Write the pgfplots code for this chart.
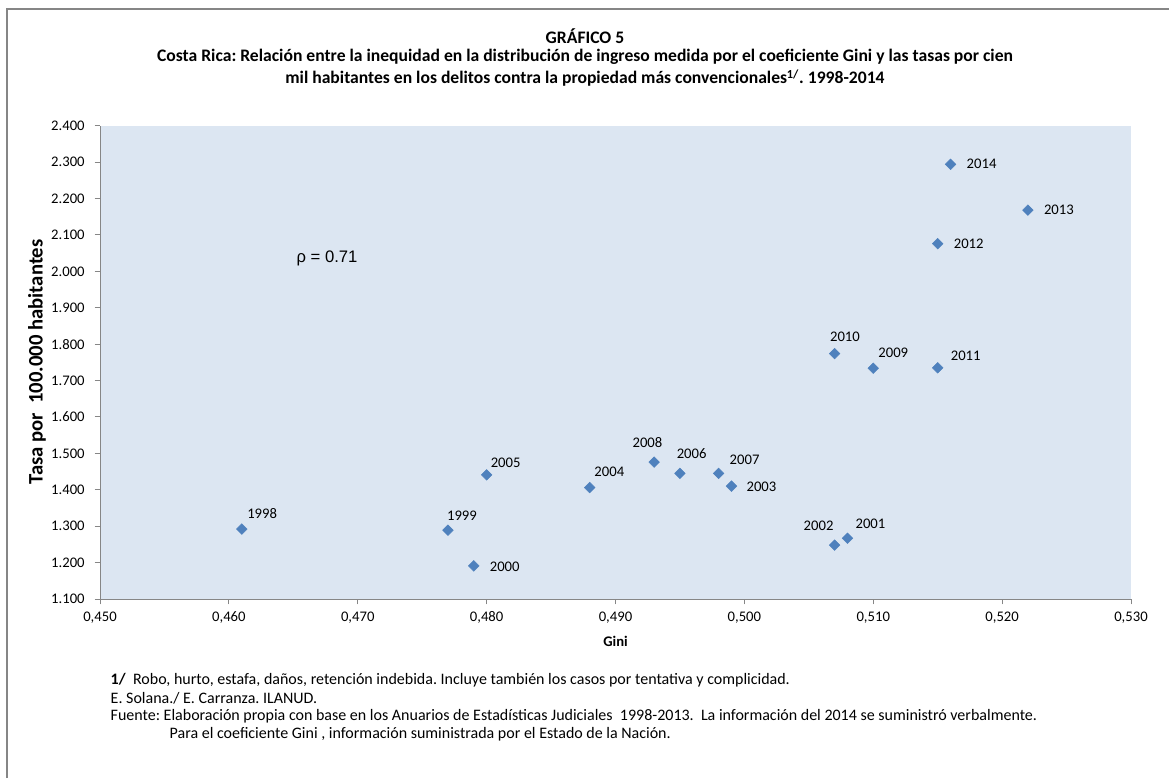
\documentclass[border=0pt]{standalone}
\usepackage{pgfplots}
\pgfplotsset{compat=1.18}
\usepackage{pgfplotstable}
\usepackage{fontspec}
\setmainfont{Carlito}
\newfontfamily\arialfont{Liberation Sans}
\frenchspacing

\definecolor{plotbg}{HTML}{DCE6F2}
\definecolor{markblue}{HTML}{4F81BD}
\definecolor{axisgray}{HTML}{868686}
\newcommand\fs{\fontsize{11}{13.4}\selectfont}
\newcommand\fn{\fontsize{12}{14.5}\selectfont}
\newcommand\ft{\fontsize{13.2}{15.5}\selectfont}

% gini, tasa por 100.000 hab., year label, label offset in px (dy up)
\pgfplotstableread{
gini  tasa  year  dx    dy
0.461 1292  1998  20.4  15.7
0.477 1289  1999  14    14
0.479 1191  2000  31    -1
0.499 1410  2003  30    -0.7
0.488 1406  2004  19.6  16
0.480 1441  2005  19    11.7
0.495 1445  2006  11.7  20
0.498 1445  2007  26    13.3
0.493 1476  2008  -6.7  20
0.507 1248  2002  -16   19
0.508 1267  2001  23    14
0.510 1734  2009  20    15.3
0.507 1774  2010  10.4  16.7
0.515 1735  2011  28    11.7
0.515 2076  2012  31    0
0.522 2168  2013  31    0
0.516 2294  2014  31    0
}\datos

\begin{document}
\begin{tikzpicture}
\path[use as bounding box] (0,0) rectangle (876.75pt,583.5pt);
\begin{axis}[
  at={(75pt,134.25pt)}, anchor=south west,
  scale only axis, width=773.25pt, height=354.98pt,
  xmin=0.45, xmax=0.53, ymin=1100, ymax=2400,
  xtick={0.45,0.46,0.47,0.48,0.49,0.50,0.51,0.52,0.53},
  ytick={1100,1200,...,2400},
  axis lines=left, axis line style={-, axisgray, line width=0.75pt},
  tick align=outside, major tick length=4pt,
  tick style={axisgray, line width=0.75pt},
  axis background/.style={fill=plotbg},
  scaled x ticks=false, scaled y ticks=false,
  xticklabel style={yshift=-2pt, /pgf/number format/.cd, fixed, fixed zerofill, precision=3, use comma},
  yticklabel style={xshift=-4pt, /pgf/number format/.cd, fixed, 1000 sep={.}},
  /pgf/number format/assume math mode=true,
  ticklabel style={font=\fs},
  clip=false,
]
\addplot[only marks, mark=square*, mark size=2.8pt,
  mark options={rotate=45, fill=markblue, draw=markblue},
  nodes near coords, point meta=explicit symbolic,
  visualization depends on={\thisrow{dx} \as \dx},
  visualization depends on={\thisrow{dy} \as \dy},
  nodes near coords style={anchor=center, font=\fs, text=black,
    xshift={\dx*0.75pt}, yshift={\dy*0.75pt}},
] table[x=gini, y=tasa, meta=year] {\datos};
\end{axis}

\begin{scope}[x=0.75pt, y=-0.75pt, yshift=583.5pt]
  \draw[axisgray, line width=1pt] (7,778) -- (7,9) -- (1169,9);
  \node[font=\bfseries\ft] at (585,36) {GRÁFICO 5};
  \node[font=\bfseries\ft] at (585,57) {Costa Rica: Relación entre la inequidad en la distribución de ingreso medida por el coeficiente Gini y las tasas por cien};
  \node[font=\bfseries\ft] at (585,78) {mil habitantes en los delitos contra la propiedad más convencionales\textsuperscript{1/}. 1998-2014};
  \node[font=\bfseries\fontsize{15.5}{18}\selectfont, rotate=90] at (37,362) {Tasa por\ \ 100.000 habitantes};
  \node[font=\bfseries\fs] at (615.5,641) {Gini};
  \node[font=\arialfont\fontsize{12.5}{15}\selectfont] at (327,258) {ρ = 0.71};
  \node[anchor=west, font=\fn] at (106,680) {\textbf{1/}\ \ Robo, hurto, estafa, daños, retención indebida. Incluye también los casos por tentativa y complicidad.};
  \node[anchor=west, font=\fn] at (106,698) {E. Solana./ E. Carranza. ILANUD.};
  \node[anchor=west, font=\fn] at (106,716) {Fuente: Elaboración propia con base en los Anuarios de Estadísticas Judiciales\ \ 1998-2013.\ \ La información del 2014 se suministró verbalmente.};
  \node[anchor=west, font=\fn] at (165,734) {Para el coeficiente Gini , información suministrada por el Estado de la Nación.};
\end{scope}
\end{tikzpicture}
\end{document}
